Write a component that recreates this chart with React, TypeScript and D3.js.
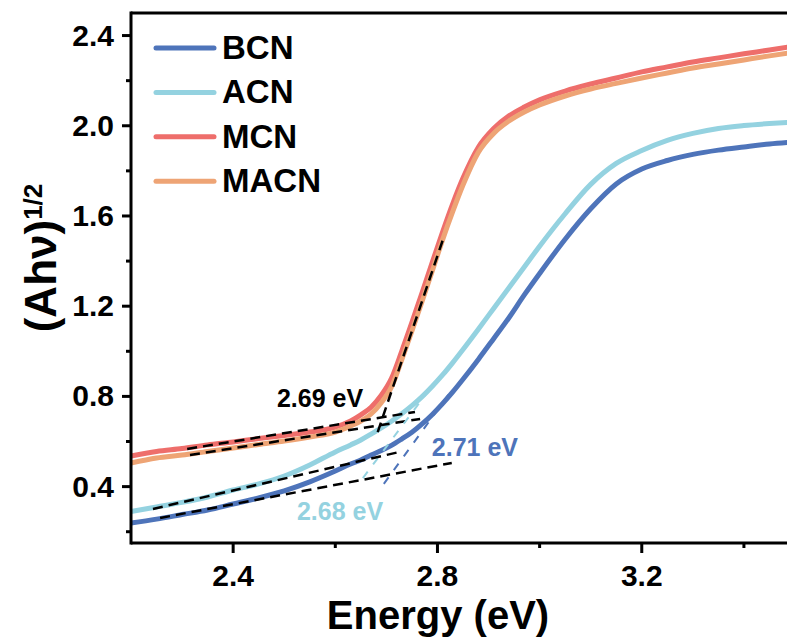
import React, { useRef, useEffect } from 'react';
import * as d3 from 'd3';

// photon energy (eV) grid the curves were read at
const energy = [2.20, 2.25, 2.30, 2.35, 2.40, 2.45, 2.50, 2.55, 2.60, 2.63, 2.65, 2.67, 2.69, 2.71, 2.73, 2.75, 2.77, 2.79, 2.81, 2.83, 2.85, 2.88, 2.91, 2.94, 2.97, 3.00, 3.05, 3.10, 3.15, 3.20, 3.25, 3.30, 3.35, 3.40, 3.45, 3.50];

// (Ahv)^1/2 for each sample
const bcn = [0.239, 0.256, 0.276, 0.296, 0.323, 0.350, 0.381, 0.421, 0.469, 0.500, 0.518, 0.540, 0.560, 0.583, 0.611, 0.641, 0.678, 0.720, 0.768, 0.820, 0.876, 0.964, 1.056, 1.149, 1.250, 1.345, 1.497, 1.632, 1.742, 1.808, 1.846, 1.873, 1.892, 1.906, 1.919, 1.928];
const acn = [0.290, 0.310, 0.330, 0.354, 0.385, 0.412, 0.447, 0.496, 0.554, 0.585, 0.607, 0.633, 0.660, 0.690, 0.723, 0.759, 0.799, 0.845, 0.895, 0.950, 1.008, 1.098, 1.190, 1.282, 1.374, 1.466, 1.610, 1.740, 1.833, 1.890, 1.935, 1.966, 1.988, 2.001, 2.010, 2.017];
const mcn = [0.536, 0.556, 0.569, 0.585, 0.598, 0.613, 0.627, 0.642, 0.664, 0.691, 0.718, 0.752, 0.805, 0.880, 1.000, 1.128, 1.261, 1.396, 1.529, 1.655, 1.768, 1.905, 1.988, 2.044, 2.083, 2.115, 2.154, 2.185, 2.212, 2.239, 2.261, 2.283, 2.301, 2.319, 2.336, 2.354];
const macn = [0.505, 0.527, 0.540, 0.556, 0.571, 0.587, 0.602, 0.620, 0.642, 0.669, 0.691, 0.722, 0.772, 0.842, 0.962, 1.090, 1.222, 1.357, 1.494, 1.620, 1.737, 1.882, 1.966, 2.021, 2.061, 2.092, 2.132, 2.163, 2.188, 2.212, 2.234, 2.256, 2.274, 2.292, 2.310, 2.327];

const seriesNames = ['BCN', 'ACN', 'MCN', 'MACN'];
const seriesValues = [bcn, acn, mcn, macn];

// Tauc fit lines: [E start, E end], [value start, value end]
const fitNames = ['MCN tangent', 'MCN base', 'MACN base', 'ACN tangent', 'ACN base', 'BCN tangent', 'BCN base'];
const fitEnergy = [[2.683, 2.8125], [2.310, 2.756], [2.3155, 2.766], [2.654, 2.785], [2.243, 2.726], [2.695, 2.824], [2.257, 2.828]];
const fitValue = [[0.642, 1.507], [0.567, 0.731], [0.540, 0.700], [0.438, 0.833], [0.301, 0.554], [0.412, 0.815], [0.261, 0.505]];

const gapLabels = ['2.69 eV', '2.71 eV', '2.68 eV'];
const gapEnergy = [2.4857, 2.789, 2.5249];
const gapValue = [0.753, 0.536, 0.252];

const xTicks = [2.4, 2.8, 3.2];
const xMinor = [2.6, 3.0, 3.4];
const yTicks = [0.4, 0.8, 1.2, 1.6, 2.0, 2.4];
const yMinor = [0.2, 0.6, 1.0, 1.4, 1.8, 2.2];

const colors = ['#4e74ba', '#94d2e0', '#ee6e6b', '#eea475'];
const fitColors = ['#000', '#000', '#000', '#94d2e0', '#000', '#4e74ba', '#000'];
const gapColors = ['#000', '#4e74ba', '#94d2e0'];

const W = 787, H = 639;
const font = '"Liberation Sans", Arial, sans-serif';

export default function App() {
    const ref = useRef<SVGSVGElement>(null);

    useEffect(() => {
        const svg = d3.select(ref.current);
        svg.selectAll('*').remove();

        const x = d3.scaleLinear().domain([2.2, 3.5]).range([131, 795]);
        const y = d3.scaleLinear().domain([0.15, 2.5]).range([543, 13]);

        const line = d3.line<number>()
            .x((d, i) => x(energy[i]))
            .y(d => y(d))
            .curve(d3.curveMonotoneX);

        const plot = svg.append('g');

        // curves
        seriesValues.forEach((vals, k) => {
            plot.append('path')
                .datum(vals)
                .attr('d', line)
                .attr('fill', 'none')
                .attr('stroke', colors[k])
                .attr('stroke-width', 5)
                .attr('stroke-linejoin', 'round');
        });

        // fit lines
        fitNames.forEach((n, i) => {
            plot.append('line')
                .attr('x1', x(fitEnergy[i][0]))
                .attr('x2', x(fitEnergy[i][1]))
                .attr('y1', y(fitValue[i][0]))
                .attr('y2', y(fitValue[i][1]))
                .attr('stroke', fitColors[i])
                .attr('stroke-width', fitColors[i] === '#000' ? 2.5 : 2)
                .attr('stroke-dasharray', fitColors[i] === '#000' ? '10,6' : '8,9');
        });

        gapLabels.forEach((t, i) => {
            plot.append('text')
                .attr('x', x(gapEnergy[i]))
                .attr('y', y(gapValue[i]))
                .attr('fill', gapColors[i])
                .style('font-family', font)
                .style('font-weight', 'bold')
                .style('font-size', '25px')
                .text(t);
        });

        // frame
        const axisG = svg.append('g');
        axisG.append('line').attr('x1', x(2.2)).attr('x2', W).attr('y1', 13).attr('y2', 13)
            .attr('stroke', '#000').attr('stroke-width', 3);
        axisG.append('line').attr('x1', x(2.2)).attr('x2', W).attr('y1', 543).attr('y2', 543)
            .attr('stroke', '#000').attr('stroke-width', 3);
        axisG.append('line').attr('x1', 131).attr('x2', 131).attr('y1', 11.5).attr('y2', 544.5)
            .attr('stroke', '#000').attr('stroke-width', 3);

        // y ticks
        yTicks.forEach(t => {
            axisG.append('line').attr('x1', 122).attr('x2', 131).attr('y1', y(t)).attr('y2', y(t))
                .attr('stroke', '#000').attr('stroke-width', 3);
            axisG.append('text')
                .attr('x', 114).attr('y', y(t) + 10)
                .attr('text-anchor', 'end')
                .style('font-family', font).style('font-weight', 'bold').style('font-size', '30px')
                .text(d3.format('.1f')(t));
        });
        yMinor.forEach(t => {
            axisG.append('line').attr('x1', 126).attr('x2', 131).attr('y1', y(t)).attr('y2', y(t))
                .attr('stroke', '#000').attr('stroke-width', 3);
        });

        // x ticks
        xTicks.forEach(t => {
            axisG.append('line').attr('x1', x(t)).attr('x2', x(t)).attr('y1', 543).attr('y2', 553)
                .attr('stroke', '#000').attr('stroke-width', 3);
            axisG.append('text')
                .attr('x', x(t)).attr('y', 586)
                .attr('text-anchor', 'middle')
                .style('font-family', font).style('font-weight', 'bold').style('font-size', '30px')
                .text(d3.format('.1f')(t));
        });
        xMinor.forEach(t => {
            axisG.append('line').attr('x1', x(t)).attr('x2', x(t)).attr('y1', 543).attr('y2', 548)
                .attr('stroke', '#000').attr('stroke-width', 3);
        });

        // axis titles
        svg.append('text')
            .attr('x', 438).attr('y', 629)
            .attr('text-anchor', 'middle')
            .style('font-family', font).style('font-weight', 'bold').style('font-size', '40px')
            .text('Energy (eV)');

        const yt = svg.append('text')
            .attr('transform', 'translate(56,258) rotate(-90)')
            .attr('text-anchor', 'middle')
            .style('font-family', font).style('font-weight', 'bold').style('font-size', '44px');
        yt.append('tspan').text('(Ahν)');
        yt.append('tspan').attr('dy', -14).style('font-size', '26px').text('1/2');

        // legend
        const leg = svg.append('g');
        seriesNames.forEach((n, i) => {
            const ly = 48 + i * 44.4;
            leg.append('line').attr('x1', 156).attr('x2', 214).attr('y1', ly).attr('y2', ly)
                .attr('stroke', colors[i]).attr('stroke-width', 5).attr('stroke-linecap', 'round');
            leg.append('text')
                .attr('x', 222).attr('y', ly + 11)
                .style('font-family', font).style('font-weight', 'bold').style('font-size', '33px')
                .text(n);
        });
    }, []);

    return (
        <svg ref={ref} width={W} height={H}
             style={{ position: 'absolute', left: 0, top: 0, background: '#fff' }} />
    );
}
